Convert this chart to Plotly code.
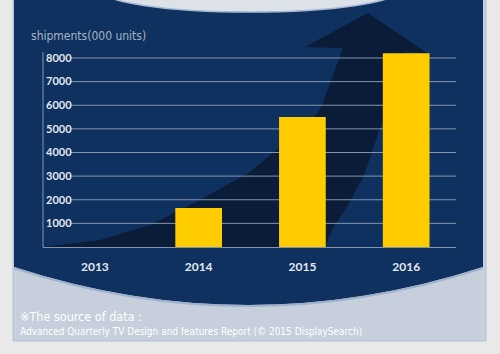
import plotly.graph_objects as go

# ---- data ----
years = ["2013", "2014", "2015", "2016"]
shipments = [None, 1650, 5500, 8200]
y_ticks = [1000, 2000, 3000, 4000, 5000, 6000, 7000, 8000]
y_tick_labels = [str(v) for v in y_ticks]
y_title = "shipments(000 units)"
source_1 = "※The source of data :"
source_2 = "Advanced Quarterly TV Design and features Report (© 2015 DisplaySearch)"
y_axis_top = 8250

W, H = 500, 354


def px(x, y):
    return f"{x / W:.4f},{1 - y / H:.4f}"


def poly(points, close=True):
    s = "M " + " L ".join(px(x, y) for x, y in points)
    return s + (" Z" if close else "")


NAVY = "#0e3160"
DARK = "#0a1c38"
GRID = "#8595ad"
NARROW = "DejaVu Sans Condensed, Liberation Sans Narrow, DejaVu Sans Mono"

fig = go.Figure()
fig.add_trace(go.Bar(
    x=years, y=shipments, width=0.45,
    marker=dict(color="#ffcc00", line=dict(width=0)),
    hoverinfo="x+y",
))

shapes = []
shapes.append(dict(type="rect", xref="paper", yref="paper", layer="below",
                   x0=13 / W, x1=486 / W, y0=1 - 341 / H, y1=1,
                   fillcolor="#c6cfdb", line=dict(color="#b4c1d3", width=1)))
navy_path = ("M " + px(14, 0) + " L " + px(483, 0) + " L " + px(483, 267)
             + " Q " + px(248, 343) + " " + px(14, 267) + " Z")
shapes.append(dict(type="path", xref="paper", yref="paper", layer="below",
                   path=navy_path, fillcolor=NAVY, line=dict(width=0)))
shapes.append(dict(type="path", xref="paper", yref="paper", layer="below",
                   path="M " + px(14, 268) + " Q " + px(248, 344) + " " + px(483, 268),
                   line=dict(color="#9fb2cd", width=2)))
shapes.append(dict(type="circle", xref="paper", yref="paper", layer="below",
                   x0=100 / W, x1=400 / W, y0=1 - 12 / H, y1=1 + 33 / H,
                   fillcolor="#dde2e9", line=dict(color="#a9b9d1", width=1.5)))
arrow_pts = [(43, 247), (100, 240), (150, 225), (200, 200), (250, 172), (270, 155),
             (290, 140), (310, 125), (322, 105), (333, 75), (343, 48),
             (305, 47), (368, 13), (427, 53), (405, 52),
             (399, 80), (391, 105), (380, 128), (371, 155), (363, 177), (347, 207),
             (333, 228), (325, 247)]
shapes.append(dict(type="path", xref="paper", yref="paper", layer="below",
                   path=poly(arrow_pts), fillcolor=DARK, line=dict(width=0)))
for v in y_ticks:
    shapes.append(dict(type="line", xref="x domain", yref="y", layer="below",
                       x0=0.066, x1=1, y0=v, y1=v,
                       line=dict(color=GRID, width=1)))
shapes.append(dict(type="line", xref="x domain", yref="y", layer="below",
                   x0=0, x1=0, y0=0, y1=y_axis_top,
                   line=dict(color=GRID, width=1)))
fig.update_layout(shapes=shapes)

fig.update_layout(
    width=W, height=H,
    margin=dict(l=0, r=0, t=0, b=0),
    paper_bgcolor="#e9e9e9",
    plot_bgcolor="rgba(0,0,0,0)",
    showlegend=False,
    xaxis=dict(
        type="category", domain=[43 / W, 456 / W], range=[-0.5, 3.48],
        showgrid=False, zeroline=False,
        showline=True, linecolor=GRID, linewidth=1,
        ticks="", ticklabelstandoff=9,
        tickfont=dict(family="Lato", size=12, color="#e4e8ee", weight="bold"),
        fixedrange=True,
    ),
    yaxis=dict(
        domain=[1 - 247 / H, 1 - 45 / H], range=[0, 8550],
        tickvals=y_ticks, ticktext=y_tick_labels,
        ticklabelposition="inside", ticks="", ticklabelstandoff=0,
        showgrid=False, zeroline=False, showline=False,
        tickfont=dict(family="Lato", size=11, color="#e4e8ee", weight="bold"),
        fixedrange=True,
    ),
    annotations=[
        dict(text=y_title, xref="paper", yref="paper", x=29 / W, y=1 - 36 / H,
             xanchor="left", yanchor="middle", showarrow=False,
             font=dict(family=NARROW, size=12, color="#a9b3c3")),
        dict(text=source_1, xref="paper", yref="paper", x=18 / W, y=1 - 316 / H,
             xanchor="left", yanchor="middle", showarrow=False,
             font=dict(family=NARROW, size=12.5, color="#ffffff")),
        dict(text=source_2, xref="paper", yref="paper", x=18 / W, y=1 - 331 / H,
             xanchor="left", yanchor="middle", showarrow=False,
             font=dict(family=NARROW, size=10, color="#ffffff")),
    ],
)

fig.write_html("out.html")
